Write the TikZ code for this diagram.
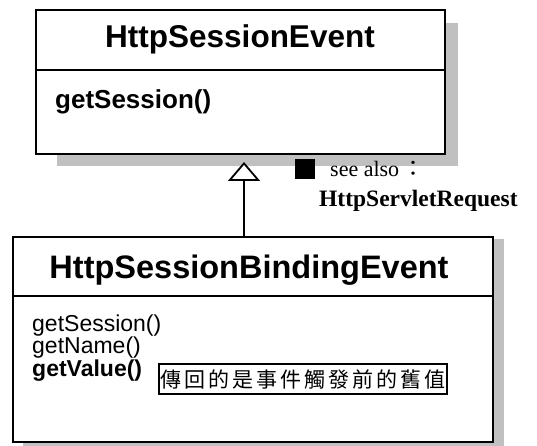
\documentclass[tikz,border=0pt]{standalone}
\usepackage{fontspec}
\setmainfont{Liberation Serif}
\setsansfont{Liberation Sans}
\newfontfamily\cjk{Noto Sans CJK TC}
\newfontfamily\cjkspaced[LetterSpace=14]{Noto Sans CJK TC}
\usetikzlibrary{arrows.meta}
\newcommand\fsz[1]{\fontsize{#1}{#1}\selectfont}
\definecolor{shadowgray}{HTML}{C0C0C0}

\begin{document}
\begin{tikzpicture}[x=1pt,y=-1pt,
  classbox/.style={draw, line width=1.8pt, fill=white, inner sep=0pt, anchor=north west},
  divider/.style={line width=1.4pt},
  lbl/.style={inner sep=0pt, anchor=base west},
  title/.style={inner sep=0pt, anchor=base, font=\sffamily\bfseries\fsz{#1}},
  op/.style={lbl, font=\sffamily\fsz{23}},
  inherit/.style={line width=1.8pt, -{Triangle[open, fill=white, length=19pt, width=32pt]}}]
\useasboundingbox (0,0) rectangle (537,446);

% drop shadows behind both classes
\fill[shadowgray] (57,23) rectangle (458,166);
\fill[shadowgray] (23,239) rectangle (504,460);

% class HttpSessionEvent
\node[classbox, minimum width=409pt, minimum height=144pt] (sup) at (35,9) {};
\draw[divider] (sup.west |- 0,70) -- (sup.east |- 0,70);
\node[title=31.5] (supname) at (240,48) {HttpSessionEvent};
\node[lbl, font=\sffamily\bfseries\fsz{26}] (supop) at (55,109) {getSession()};

% class HttpSessionBindingEvent
\node[classbox, minimum width=480pt, minimum height=205pt] (sub) at (12,236) {};
\draw[divider] (sub.west |- 0,296) -- (sub.east |- 0,296);
\node[title=32.5] (subname) at (249,278) {HttpSessionBindingEvent};
\node[op] (op1) at (32,331) {getSession()};
\node[op] (op2) at (32,353) {getName()};
\node[op, font=\sffamily\bfseries\fsz{23}] (op3) at (32,376) {getValue()};
\node[draw, line width=1.8pt, inner xsep=2pt, inner ysep=0pt, minimum height=30pt,
      anchor=west, font=\cjkspaced\fsz{21}] (note) at (158,379) {傳回的是事件觸發前的舊值};

% generalization arrow
\coordinate (tip) at (244,162);
\draw[inherit] (sub.north -| tip) -- (tip);

% cross reference
\node[fill=black, minimum size=20pt, inner sep=0pt, anchor=north west] (bullet) at (295,159) {};
\node[lbl, font=\fsz{22}] (see) at (330,177) {see also\,{\cjk ：}};
\node[lbl, font=\bfseries\fsz{23.5}] (ref) at (319,206) {HttpServletRequest};
\end{tikzpicture}
\end{document}
